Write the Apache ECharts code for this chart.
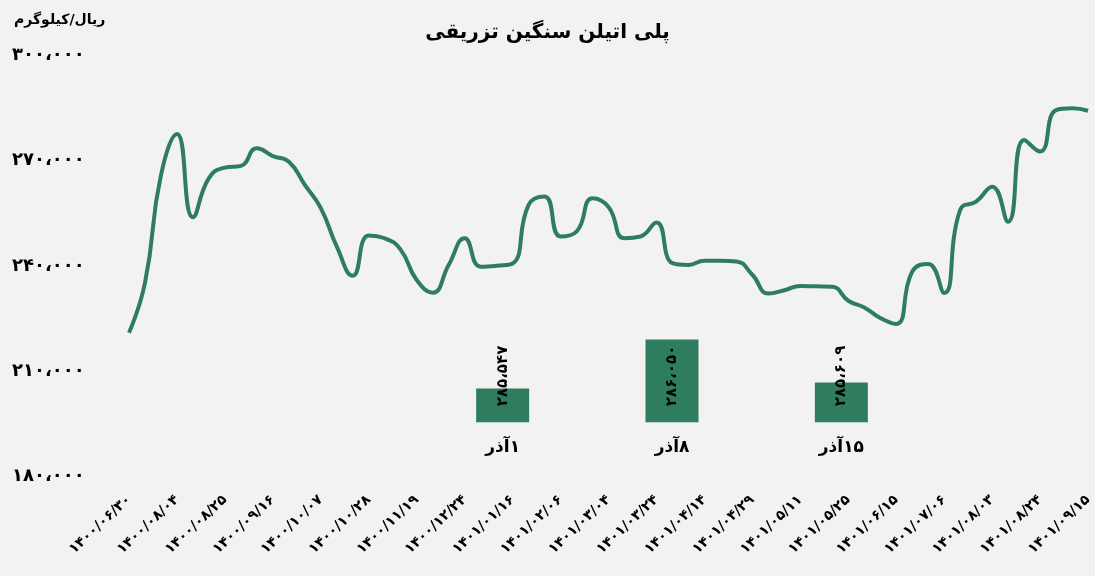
<!DOCTYPE html>
<html>
<head>
<meta charset="utf-8">
<script src="https://cdn.jsdelivr.net/npm/echarts@6/dist/echarts.min.js"></script>
<style>
html,body{margin:0;padding:0;background:#f2f2f2;}
#c{width:1095px;height:576px;}
</style>
</head>
<body>
<div id="c"></div>
<script>
const dates = [
  '1400/06/30','1400/07/14','1400/07/28','1400/08/04','1400/08/11','1400/08/18','1400/08/25',
  '1400/09/02','1400/09/09','1400/09/16','1400/09/23','1400/09/30','1400/10/07',
  '1400/10/14','1400/10/21','1400/10/28','1400/11/05','1400/11/12','1400/11/19',
  '1400/11/26','1400/12/10','1400/12/24','1401/01/02','1401/01/09','1401/01/16',
  '1401/01/23','1401/01/30','1401/02/06','1401/02/13','1401/02/20','1401/03/04',
  '1401/03/10','1401/03/17','1401/03/24','1401/03/31','1401/04/07','1401/04/14',
  '1401/04/21','1401/04/25','1401/04/29','1401/05/01','1401/05/04','1401/05/11',
  '1401/05/15','1401/05/18','1401/05/25','1401/06/01','1401/06/08','1401/06/15',
  '1401/06/22','1401/06/29','1401/07/06','1401/07/13','1401/07/20','1401/08/03',
  '1401/08/10','1401/08/17','1401/08/24','1401/09/01','1401/09/08','1401/09/15'
];
const prices = [
  221000, 235200, 265900, 277600, 253900, 265000, 268000,
  268500, 273500, 271300, 269700, 263100, 256500,
  245500, 237200, 248700, 247900, 244600, 236000,
  232400, 240300, 247900, 239800, 240100, 240700,
  257400, 259800, 248400, 249800, 259300, 256800,
  247900, 248400, 252400, 240800, 240300, 241500,
  241500, 241300, 237500, 232200, 233100, 234300,
  234200, 234100, 230100, 228200, 225200, 223500,
  238400, 240600, 232300, 256000, 258300, 262600,
  252600, 275900, 272600, 284400, 284900, 284200
];
const barCategories = ['۱آذر', '۸آذر', '۱۵آذر'];
const barValues = [285547, 286050, 285609];
const yMin = 180000, yMax = 300000, yStep = 30000;
const barMin = 285200, barMax = 286100;

const titleText = 'پلی اتیلن سنگین تزریقی';
const unitText = 'ریال/کیلوگرم';

function fa(s) { return String(s).replace(/\d/g, d => '۰۱۲۳۴۵۶۷۸۹'[d]); }
function faNum(v) { return fa(Number(v).toLocaleString('en-US')).replace(/,/g, '،'); }

const FONT = "'DejaVu Sans', 'Noto Sans', sans-serif";
const GREEN = '#2e7d5e';

const chart = echarts.init(document.getElementById('c'), null, {renderer: 'canvas'});
chart.setOption({
  backgroundColor: '#f2f2f2',
  animation: false,
  textStyle: {fontFamily: FONT},
  title: [
    {text: titleText, left: 'center', top: 18,
     textStyle: {fontFamily: FONT, fontSize: 20, fontWeight: 'bold', color: '#000'}},
    {text: unitText, left: 9, top: 8,
     textStyle: {fontFamily: FONT, fontSize: 14, fontWeight: 'bold', color: '#000'}}
  ],
  grid: [
    {left: 129, right: 0, top: 55.3, bottom: 99.3, containLabel: false},
    {left: 418, width: 508, top: 334.6, bottom: 153.7, containLabel: false}
  ],
  xAxis: [
    {type: 'category', gridIndex: 0, data: dates, boundaryGap: false,
     axisLine: {show: false}, axisTick: {show: false}, splitLine: {show: false},
     axisLabel: {interval: 2, rotate: 43, margin: 21, color: '#000', fontSize: 14, fontWeight: 'bold',
                 fontFamily: FONT, formatter: v => fa(v)}},
    {type: 'category', gridIndex: 1, data: barCategories,
     axisLine: {show: false}, axisTick: {show: false}, splitLine: {show: false},
     axisLabel: {margin: 17, color: '#000', fontSize: 17, fontWeight: 'bold', fontFamily: FONT,
                 formatter: v => '\u200F' + v}}
  ],
  yAxis: [
    {type: 'value', gridIndex: 0, min: yMin, max: yMax, interval: yStep,
     axisLine: {show: false}, axisTick: {show: false}, splitLine: {show: false},
     axisLabel: {align: 'left', margin: 117, color: '#000', fontSize: 18, fontWeight: 'bold',
                 fontFamily: FONT, formatter: v => faNum(v)}},
    {type: 'value', gridIndex: 1, min: barMin, max: barMax, show: false,
     splitLine: {show: false}}
  ],
  series: [
    {type: 'line', xAxisIndex: 0, yAxisIndex: 0, data: prices, smooth: true,
     showSymbol: false, symbol: 'none', lineStyle: {color: GREEN, width: 4}, z: 2},
    {type: 'bar', xAxisIndex: 1, yAxisIndex: 1, data: barValues, barWidth: 53,
     itemStyle: {color: GREEN},
     label: {show: true, position: 'insideBottom', distance: 16, rotate: 90,
             align: 'left', verticalAlign: 'middle', color: '#000', fontSize: 15,
             fontWeight: 'bold', fontFamily: FONT, formatter: p => faNum(p.value)}, z: 3}
  ]
});
</script>
</body>
</html>
